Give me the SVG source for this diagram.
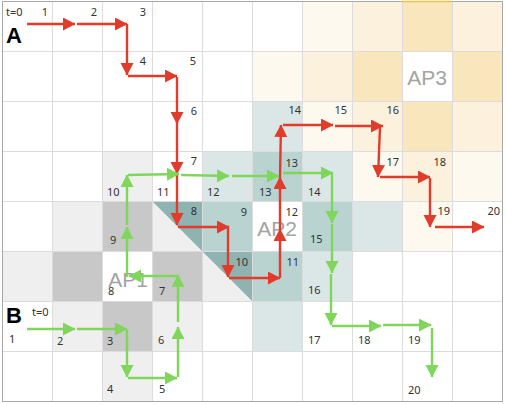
<svg xmlns="http://www.w3.org/2000/svg" width="506" height="404" viewBox="0 0 506 404">
<style>
.lg{fill:#efefef}.mg{fill:#c8c8c8}
.lb{fill:#dbe6e6}.mb{fill:#b9d3d1}.dt{fill:#8fb3b1}
.c1{fill:#fdf9ee}.c2{fill:#fbf1dc}.c3{fill:#f9e6bc}
.grid line{stroke:#dcdcdc;stroke-width:1}
.ap{font-family:"Liberation Sans",Arial,sans-serif;font-size:21px;fill:#a3a3a3;text-anchor:middle}
.n{font-family:"Noto Sans","Open Sans",sans-serif;font-size:11px;fill:#333}
.na{text-anchor:end}
.big{font-family:"Liberation Sans",Arial,sans-serif;font-size:22px;font-weight:bold;fill:#000}
.ra line{stroke:#e03b2b;stroke-width:2.4;marker-end:url(#mr)}
.ga line{stroke:#80d65a;stroke-width:2.4;marker-end:url(#mg)}
</style>
<defs>
<marker id="mr" markerUnits="userSpaceOnUse" markerWidth="14" markerHeight="14" refX="12" refY="6.5" orient="auto"><path d="M0,0 L12.5,6.5 L0,13 z" fill="#e03b2b"/></marker>
<marker id="mg" markerUnits="userSpaceOnUse" markerWidth="14" markerHeight="14" refX="12" refY="6.5" orient="auto"><path d="M0,0 L12.5,6.5 L0,13 z" fill="#80d65a"/></marker>
</defs>
<rect x="0" y="0" width="506" height="404" fill="#fff"/>
<g id="cells">
<!-- AP3 zone -->
<rect class="c1" x="302" y="1" width="50" height="50"/>
<rect class="c2" x="352" y="1" width="50" height="50"/>
<rect class="c3" x="402" y="1" width="50" height="50"/>
<rect class="c2" x="452" y="1" width="50" height="50"/>
<rect class="c1" x="252" y="51" width="50" height="50"/>
<rect class="c2" x="302" y="51" width="50" height="50"/>
<rect class="c3" x="352" y="51" width="50" height="50"/>
<rect class="c3" x="452" y="51" width="50" height="50"/>
<rect class="c1" x="302" y="101" width="50" height="50"/>
<rect class="c2" x="352" y="101" width="50" height="50"/>
<rect class="c3" x="402" y="101" width="50" height="50"/>
<rect class="c2" x="452" y="101" width="50" height="50"/>
<rect class="c1" x="352" y="151" width="50" height="50"/>
<rect class="c2" x="402" y="151" width="50" height="50"/>
<rect class="c1" x="452" y="151" width="50" height="50"/>
<rect class="c1" x="402" y="201" width="50" height="50"/>
<!-- AP2 zone -->
<rect class="lb" x="252" y="101" width="50" height="50"/>
<rect class="lb" x="202" y="151" width="50" height="50"/>
<rect class="mb" x="252" y="151" width="50" height="50"/>
<rect class="lb" x="302" y="151" width="50" height="50"/>
<rect class="mb" x="202" y="201" width="50" height="50"/>
<rect class="mb" x="302" y="201" width="50" height="50"/>
<rect class="lb" x="352" y="201" width="50" height="50"/>
<rect class="mb" x="252" y="251" width="50" height="50"/>
<rect class="lb" x="302" y="251" width="50" height="50"/>
<rect class="lb" x="252" y="301" width="50" height="50"/>
<!-- AP1 zone -->
<rect class="lg" x="102" y="151" width="50" height="50"/>
<rect class="lg" x="52" y="201" width="50" height="50"/>
<rect class="mg" x="102" y="201" width="50" height="50"/>
<rect class="lg" x="152" y="201" width="50" height="50"/>
<polygon class="dt" points="152,201 202,201 202,251"/>
<rect class="lg" x="2" y="251" width="50" height="50"/>
<rect class="mg" x="52" y="251" width="50" height="50"/>
<rect class="mg" x="152" y="251" width="50" height="50"/>
<rect class="lg" x="202" y="251" width="50" height="50"/>
<polygon class="dt" points="202,251 252,251 252,301"/>
<rect class="lg" x="52" y="301" width="50" height="50"/>
<rect class="mg" x="102" y="301" width="50" height="50"/>
<rect class="lg" x="152" y="301" width="50" height="50"/>
<rect class="lg" x="102" y="351" width="50" height="50"/>
</g>
<g class="grid">
<line x1="52.5" y1="1" x2="52.5" y2="401"/>
<line x1="102.5" y1="1" x2="102.5" y2="401"/>
<line x1="152.5" y1="1" x2="152.5" y2="401"/>
<line x1="202.5" y1="1" x2="202.5" y2="401"/>
<line x1="252.5" y1="1" x2="252.5" y2="401"/>
<line x1="302.5" y1="1" x2="302.5" y2="401"/>
<line x1="352.5" y1="1" x2="352.5" y2="401"/>
<line x1="402.5" y1="1" x2="402.5" y2="401"/>
<line x1="452.5" y1="1" x2="452.5" y2="401"/>
<line x1="2" y1="51.5" x2="502" y2="51.5"/>
<line x1="2" y1="101.5" x2="502" y2="101.5"/>
<line x1="2" y1="151.5" x2="502" y2="151.5"/>
<line x1="2" y1="201.5" x2="502" y2="201.5"/>
<line x1="2" y1="251.5" x2="502" y2="251.5"/>
<line x1="2" y1="301.5" x2="502" y2="301.5"/>
<line x1="2" y1="351.5" x2="502" y2="351.5"/>
</g>
<rect x="2.5" y="1.5" width="500" height="400" fill="none" stroke="#a8a8a8" stroke-width="1"/>
<line x1="402" y1="1.5" x2="452" y2="1.5" stroke="#f0bf4c" stroke-width="1.5"/>
<g id="ap1"><text class="ap" x="128" y="287">AP1</text></g>
<g id="ap2"><text class="ap" x="277" y="236">AP2</text></g>
<g id="ap3"><text class="ap" x="427" y="85">AP3</text></g>
<g id="connectors">
<g class="ra">
<line x1="27" y1="24" x2="75" y2="24"/>
<line x1="77" y1="24" x2="127" y2="24"/>
<line x1="127" y1="24" x2="127" y2="75"/>
<line x1="128" y1="76" x2="177" y2="76"/>
<line x1="177" y1="77" x2="177" y2="124"/>
<line x1="177" y1="124" x2="177" y2="174"/>
<line x1="177" y1="174" x2="177" y2="225"/>
<line x1="178" y1="227" x2="229" y2="227"/>
<line x1="228" y1="227" x2="228" y2="277"/>
<line x1="229" y1="278" x2="280" y2="278"/>
<line x1="280" y1="278" x2="280" y2="229"/>
<line x1="280" y1="229" x2="280" y2="177"/>
<line x1="280" y1="177" x2="281" y2="125"/>
<line x1="283" y1="125" x2="333" y2="125"/>
<line x1="335" y1="126" x2="383" y2="126"/>
<line x1="380" y1="127" x2="378" y2="177"/>
<line x1="380" y1="177" x2="430" y2="177"/>
<line x1="430" y1="178" x2="430" y2="227"/>
<line x1="435" y1="227" x2="484" y2="227"/>
</g>
<g class="ga">
<line x1="27" y1="329" x2="75" y2="329"/>
<line x1="77" y1="329" x2="127" y2="329"/>
<line x1="127" y1="330" x2="127" y2="377"/>
<line x1="128" y1="378" x2="177" y2="378"/>
<line x1="178" y1="377" x2="178" y2="327"/>
<line x1="178" y1="322" x2="178" y2="275"/>
<line x1="177" y1="276" x2="129" y2="276"/>
<line x1="127" y1="277" x2="127" y2="227"/>
<line x1="127" y1="225" x2="127" y2="175"/>
<line x1="128" y1="175" x2="179" y2="174"/>
<line x1="181" y1="175" x2="229" y2="176"/>
<line x1="232" y1="176" x2="279" y2="176"/>
<line x1="283" y1="173" x2="333" y2="173"/>
<line x1="332" y1="174" x2="332" y2="223"/>
<line x1="332" y1="224" x2="332" y2="273"/>
<line x1="331" y1="274" x2="331" y2="325"/>
<line x1="332" y1="326" x2="381" y2="326"/>
<line x1="383" y1="325" x2="431" y2="325"/>
<line x1="432" y1="328" x2="432" y2="377"/>
</g>
</g>
<g id="labels-a">
<text class="big" x="6" y="43">A</text>
<text class="n" x="6" y="16">t=0</text>
<g class="na">
<text class="n na" x="48" y="16">1</text>
<text class="n na" x="97" y="16">2</text>
<text class="n na" x="146" y="16">3</text>
<text class="n na" x="146" y="65">4</text>
<text class="n na" x="196" y="65">5</text>
<text class="n na" x="197" y="115">6</text>
<text class="n na" x="197" y="165">7</text>
<text class="n na" x="197" y="215">8</text>
<text class="n na" x="247" y="216">9</text>
<text class="n na" x="248" y="266">10</text>
<text class="n na" x="299" y="266">11</text>
<text class="n na" x="298" y="216">12</text>
<text class="n na" x="298" y="167">13</text>
<text class="n na" x="301" y="114">14</text>
<text class="n na" x="347" y="114">15</text>
<text class="n na" x="399" y="114">16</text>
<text class="n na" x="399" y="166">17</text>
<text class="n na" x="446" y="166">18</text>
<text class="n na" x="450" y="215">19</text>
<text class="n na" x="500" y="215">20</text>
</g>
</g>
<g id="labels-b">
<text class="big" x="6" y="323">B</text>
<text class="n" x="32" y="316">t=0</text>
<text class="n" x="9" y="343">1</text>
<text class="n" x="57" y="345">2</text>
<text class="n" x="107" y="345">3</text>
<text class="n" x="107" y="393">4</text>
<text class="n" x="159" y="393">5</text>
<text class="n" x="158" y="344">6</text>
<text class="n" x="159" y="295">7</text>
<text class="n" x="108" y="295">8</text>
<text class="n" x="110" y="244">9</text>
<text class="n" x="107" y="196">10</text>
<text class="n" x="157" y="196">11</text>
<text class="n" x="207" y="196">12</text>
<text class="n" x="259" y="196">13</text>
<text class="n" x="308" y="196">14</text>
<text class="n" x="310" y="243">15</text>
<text class="n" x="308" y="294">16</text>
<text class="n" x="308" y="344">17</text>
<text class="n" x="358" y="344">18</text>
<text class="n" x="408" y="344">19</text>
<text class="n" x="408" y="394">20</text>
</g>
</svg>
